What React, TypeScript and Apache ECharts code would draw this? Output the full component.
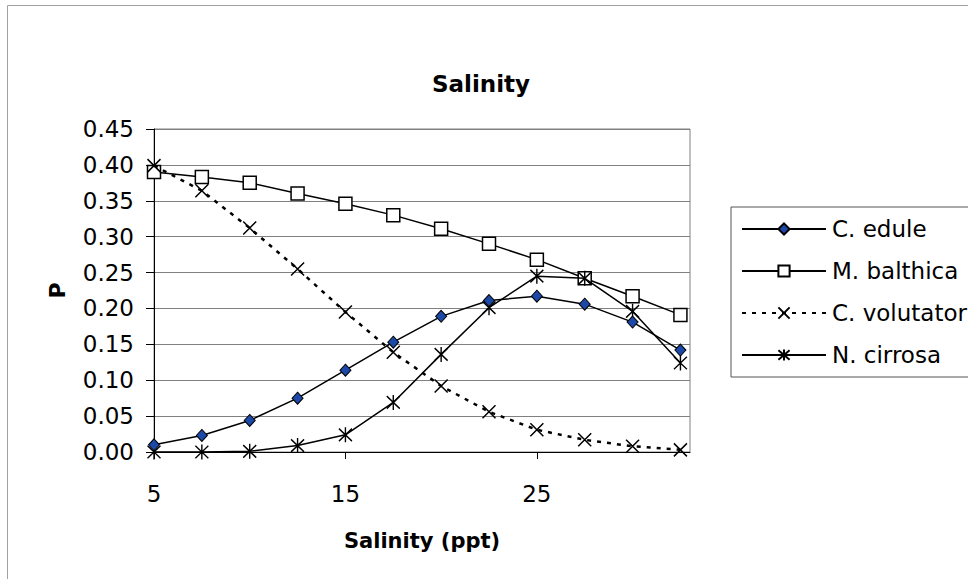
import React, { useEffect, useRef } from "react";
import * as echarts from "echarts";

const salinity = [5, 7.5, 10, 12.5, 15, 17.5, 20, 22.5, 25, 27.5, 30, 32.5];
const cEdule = [0.010, 0.023, 0.044, 0.075, 0.114, 0.153, 0.189, 0.211, 0.217, 0.206, 0.181, 0.142];
const mBalthica = [0.390, 0.383, 0.375, 0.360, 0.346, 0.330, 0.311, 0.290, 0.268, 0.242, 0.217, 0.191];
const cVolutator = [0.399, 0.364, 0.312, 0.255, 0.195, 0.139, 0.092, 0.056, 0.031, 0.017, 0.008, 0.003];
const nCirrosa = [0.000, 0.000, 0.001, 0.009, 0.024, 0.069, 0.136, 0.201, 0.245, 0.242, 0.196, 0.124];
const xTickValues = [5, 15, 25];
const seriesNames = ["C. edule", "M. balthica", "C. volutator", "N. cirrosa"];

const FONT = "DejaVu Sans";

function pairs(values: number[]) {
  return values.map((v, i) => [salinity[i], v]);
}

export default function App() {
  const ref = useRef<HTMLDivElement>(null);
  useEffect(() => {
    document.body.style.margin = "0";
    const chart = echarts.init(ref.current!, null, { renderer: "svg" });
    const lineBase = { color: "#000", width: 1.5 };
    chart.setOption({
      animation: false,
      backgroundColor: "#ffffff",
      title: {
        text: "Salinity",
        left: 476,
        top: 67,
        textAlign: "center",
        textStyle: { fontFamily: FONT, fontSize: 23, fontWeight: "bold", color: "#000" },
      },
      graphic: [
        {
          type: "rect",
          silent: true,
          z: -10,
          shape: { x: 7.5, y: 5.5, width: 1000, height: 600 },
          style: { fill: "none", stroke: "#a0a0a0", lineWidth: 1 },
        },
      ],
      legend: {
        orient: "vertical",
        left: 731,
        top: 207,
        padding: [10, 10, 10, 10],
        itemWidth: 84,
        itemHeight: 14,
        itemGap: 18,
        borderColor: "#555",
        borderWidth: 1,
        data: seriesNames,
        textStyle: { fontFamily: FONT, fontSize: 23, color: "#000", lineHeight: 24, padding: [0, 0, 0, 1] },
      },
      grid: {
        left: 154,
        top: 129,
        right: 278,
        bottom: 127,
        show: true,
        borderColor: "#808080",
        borderWidth: 1,
        backgroundColor: "transparent",
      },
      xAxis: {
        type: "value",
        min: 5,
        max: 33,
        name: "Salinity (ppt)",
        nameLocation: "middle",
        nameGap: 78,
        nameTextStyle: { fontFamily: FONT, fontSize: 21, fontWeight: "bold", color: "#000" },
        axisLine: { lineStyle: { color: "#000", width: 1 } },
        axisTick: { show: true, length: 7, customValues: xTickValues, lineStyle: { color: "#000" } },
        axisLabel: {
          customValues: xTickValues,
          margin: 30,
          fontFamily: FONT,
          fontSize: 23,
          color: "#000",
        },
        splitLine: { show: false },
      },
      yAxis: {
        type: "value",
        min: 0,
        max: 0.45,
        interval: 0.05,
        name: "P",
        nameLocation: "middle",
        nameGap: 86,
        nameTextStyle: { fontFamily: FONT, fontSize: 22, fontWeight: "bold", color: "#000" },
        axisLine: { show: true, lineStyle: { color: "#000", width: 1 } },
        axisTick: { show: true, length: 8, lineStyle: { color: "#000" } },
        axisLabel: {
          margin: 20,
          fontFamily: FONT,
          fontSize: 23,
          color: "#000",
          formatter: (v: number) => v.toFixed(2),
        },
        splitLine: { show: true, lineStyle: { color: "#808080", width: 1 } },
      },
      series: [
        {
          name: "M. balthica",
          type: "line",
          data: pairs(mBalthica),
          symbol: "rect",
          symbolSize: 13,
          lineStyle: { ...lineBase },
          itemStyle: { color: "#ffffff", borderColor: "#000", borderWidth: 1.5 },
          z: 2,
        },
        {
          name: "C. volutator",
          type: "line",
          data: pairs(cVolutator),
          symbol: "path://M0,0L10,10M10,0L0,10",
          symbolSize: 13,
          lineStyle: { color: "#000", width: 2.5, type: [4, 6] },
          itemStyle: { color: "rgba(0,0,0,0)", borderColor: "#000", borderWidth: 1.5 },
          z: 3,
        },
        {
          name: "N. cirrosa",
          type: "line",
          data: pairs(nCirrosa),
          symbol: "path://M0,1L10,11M10,1L0,11M5,0L5,12",
          symbolSize: [13, 15],
          lineStyle: { ...lineBase },
          itemStyle: { color: "rgba(0,0,0,0)", borderColor: "#000", borderWidth: 1.5 },
          z: 4,
        },
        {
          name: "C. edule",
          type: "line",
          data: pairs(cEdule),
          symbol: "diamond",
          symbolSize: [11, 12],
          lineStyle: { ...lineBase },
          itemStyle: { color: "#1c48a8", borderColor: "#000", borderWidth: 1 },
          z: 5,
        },
      ],
    });
    return () => chart.dispose();
  }, []);
  return (
    <div
      ref={ref}
      style={{ position: "fixed", left: 0, top: 0, width: 968, height: 579 }}
    />
  );
}
